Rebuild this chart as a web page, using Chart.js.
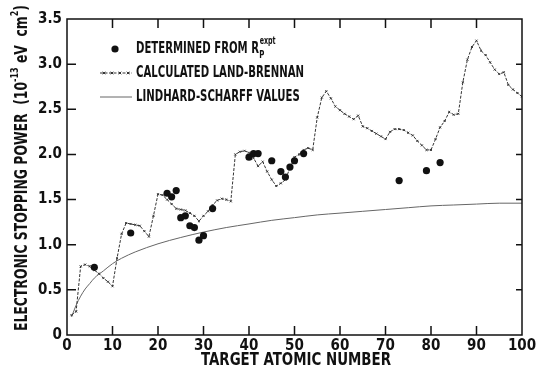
<!DOCTYPE html>
<html>
<head>
<meta charset="utf-8">
<script src="https://cdn.jsdelivr.net/npm/chart.js@4.4.1/dist/chart.umd.min.js"></script>
<style>
  html, body { margin: 0; padding: 0; background: #ffffff; }
  #c { display: block; }
</style>
</head>
<body>
<canvas id="c" width="539" height="379"></canvas>
<script>
// ---------- DATA ----------
const xTicks = [0, 10, 20, 30, 40, 50, 60, 70, 80, 90, 100];
const yTicks = [0, 0.5, 1.0, 1.5, 2.0, 2.5, 3.0, 3.5];

// Determined from R_P^expt (filled circles)
const exptZ = [6, 14, 22, 23, 24, 25, 26, 27, 28, 29, 30, 32, 40, 41, 42, 45, 47, 48, 49, 50, 52, 73, 79, 82];
const exptS = [0.75, 1.13, 1.57, 1.53, 1.60, 1.30, 1.32, 1.21, 1.19, 1.05, 1.10, 1.40, 1.97, 2.01, 2.01, 1.93, 1.81, 1.75, 1.86, 1.93, 2.01, 1.71, 1.82, 1.91];

// Calculated Land-Brennan
const lbZ = [1,2,3,4,5,6,7,8,9,10,11,12,13,14,15,16,17,18,19,20,21,22,23,24,25,26,27,28,29,30,31,32,33,34,35,36,37,38,39,40,41,42,43,44,45,46,47,48,49,50,51,52,53,54,55,56,57,58,59,60,61,62,63,64,65,66,67,68,69,70,71,72,73,74,75,76,77,78,79,80,81,82,83,84,85,86,87,88,89,90,91,92,93,94,95,96,97,98,99,100];
const lbS = [0.22,0.26,0.76,0.78,0.76,0.72,0.68,0.63,0.59,0.54,
             0.85,1.12,1.24,1.23,1.22,1.21,1.15,1.09,1.32,1.56,
             1.55,1.50,1.45,1.40,1.39,1.38,1.35,1.32,1.26,1.32,
             1.37,1.44,1.49,1.51,1.50,1.48,2.00,2.03,2.04,2.02,
             1.96,1.87,1.92,1.81,1.72,1.65,1.68,1.72,1.85,1.97,
             2.00,2.05,2.07,2.05,2.41,2.63,2.70,2.62,2.53,2.49,
             2.45,2.42,2.39,2.43,2.31,2.29,2.26,2.23,2.20,2.17,
             2.25,2.28,2.28,2.27,2.24,2.21,2.15,2.10,2.05,2.05,
             2.17,2.30,2.37,2.47,2.44,2.45,2.80,3.05,3.19,3.26,
             3.15,3.10,3.02,2.94,2.89,2.91,2.77,2.72,2.68,2.64];

// Lindhard-Scharff values
const lsZ = [1, 2, 3, 4, 5, 6, 8, 10, 12, 15, 20, 25, 30, 35, 40, 45, 50, 55, 60, 65, 70, 75, 80, 85, 90, 95, 100];
const lsS = [0.20, 0.33, 0.43, 0.51, 0.57, 0.63, 0.71, 0.79, 0.85, 0.92, 1.01, 1.08, 1.14, 1.19, 1.23, 1.27, 1.30, 1.33, 1.35, 1.37, 1.39, 1.41, 1.43, 1.44, 1.45, 1.46, 1.46];

const xTitle = 'TARGET ATOMIC NUMBER';
const yTitleParts = [['ELECTRONIC STOPPING POWER  (10', 0], ['-13', 1], [' eV  cm', 0], ['2', 1], [')', 0]];
const legendLabels = ['DETERMINED FROM R', 'CALCULATED LAND-BRENNAN', 'LINDHARD-SCHARFF VALUES'];

// ---------- STYLE ----------
const FAM = '"Liberation Sans Narrow", "DejaVu Sans Condensed", "Arial Narrow", sans-serif';
const INK = '#111111';

const toXY = (xs, ys) => xs.map((x, i) => ({ x: x, y: ys[i] }));

function runsWidth(ctx, runs, big, small) {
  let w = 0;
  runs.forEach(([t, s]) => { ctx.font = s ? small : big; w += ctx.measureText(t).width; });
  return w;
}

const decor = {
  id: 'decor',
  afterDraw(chart) {
    const ctx = chart.ctx;
    const a = chart.chartArea;
    const xs = chart.scales.x, ys = chart.scales.y;
    ctx.save();
    // frame
    ctx.strokeStyle = INK;
    ctx.lineWidth = 1.5;
    ctx.strokeRect(a.left, a.top, a.right - a.left, a.bottom - a.top);
    // inward ticks
    ctx.beginPath();
    xTicks.forEach(v => {
      if (v === 0 || v === 100) return;
      const px = xs.getPixelForValue(v);
      ctx.moveTo(px, a.bottom); ctx.lineTo(px, a.bottom - 9);
      ctx.moveTo(px, a.top); ctx.lineTo(px, a.top + 9);
    });
    yTicks.forEach(v => {
      if (v === 0 || v === 3.5) return;
      const py = ys.getPixelForValue(v);
      ctx.moveTo(a.left, py); ctx.lineTo(a.left + 9, py);
      ctx.moveTo(a.right, py); ctx.lineTo(a.right - 6, py);
    });
    ctx.stroke();

    ctx.fillStyle = INK;
    ctx.textBaseline = 'middle';
    ctx.textAlign = 'left';

    // x title (condensed to the reference width)
    ctx.font = 'bold 18px ' + FAM;
    const xw = ctx.measureText(xTitle).width;
    ctx.save();
    ctx.translate(296, 360);
    ctx.scale(190 / xw, 1);
    ctx.fillText(xTitle, -xw / 2, 0);
    ctx.restore();

    // y title with superscripts
    const big = 'bold 17px ' + FAM, small = 'bold 11px ' + FAM;
    const yw = runsWidth(ctx, yTitleParts, big, small);
    ctx.save();
    ctx.translate(23, 168);
    ctx.rotate(-Math.PI / 2);
    ctx.scale(326 / yw, 1);
    let cx = -yw / 2;
    yTitleParts.forEach(([t, s]) => {
      ctx.font = s ? small : big;
      ctx.fillText(t, cx, s ? -8 : 0);
      cx += ctx.measureText(t).width;
    });
    ctx.restore();

    // legend
    const lx = 136, rows = [49, 73, 97];
    const LF = 'bold 16px ' + FAM;
    ctx.font = LF;
    const k = 168 / ctx.measureText(legendLabels[1]).width;
    ctx.save();
    ctx.translate(lx, 0);
    ctx.scale(k, 1);
    legendLabels.forEach((t, i) => { ctx.font = LF; ctx.fillText(t, 0, rows[i]); });
    ctx.font = LF;
    const w0 = ctx.measureText(legendLabels[0]).width;
    ctx.font = 'bold 11px ' + FAM;
    ctx.fillText('P', w0 + 0.5, rows[0] + 6);
    ctx.font = 'bold 10px ' + FAM;
    ctx.fillText('expt', w0 + 1, rows[0] - 8);
    ctx.restore();

    // legend symbols
    ctx.beginPath();
    ctx.arc(115, rows[0], 3.6, 0, Math.PI * 2);
    ctx.fill();
    ctx.strokeStyle = '#333';
    ctx.lineWidth = 1;
    ctx.setLineDash([3, 1.5]);
    ctx.beginPath(); ctx.moveTo(100, rows[1]); ctx.lineTo(132, rows[1]); ctx.stroke();
    ctx.setLineDash([]);
    [104, 112, 120, 128].forEach(px => {
      ctx.beginPath();
      ctx.moveTo(px - 1.3, rows[1] - 1.3); ctx.lineTo(px + 1.3, rows[1] + 1.3);
      ctx.moveTo(px - 1.3, rows[1] + 1.3); ctx.lineTo(px + 1.3, rows[1] - 1.3);
      ctx.stroke();
    });
    ctx.strokeStyle = '#666';
    ctx.beginPath(); ctx.moveTo(100, rows[2]); ctx.lineTo(132, rows[2]); ctx.stroke();
    ctx.restore();
  }
};

new Chart(document.getElementById('c'), {
  type: 'scatter',
  data: {
    datasets: [
      {
        label: 'Lindhard-Scharff values',
        data: toXY(lsZ, lsS),
        showLine: true,
        borderColor: '#666666',
        borderWidth: 1,
        pointRadius: 0,
        cubicInterpolationMode: 'monotone',
        order: 3
      },
      {
        label: 'Calculated Land-Brennan',
        data: toXY(lbZ, lbS),
        showLine: true,
        borderColor: '#333333',
        borderWidth: 1,
        borderDash: [3, 1.5],
        pointStyle: 'crossRot',
        pointRadius: 1.4,
        pointBorderColor: '#333333',
        pointBorderWidth: 1,
        order: 2
      },
      {
        label: 'Determined from Rp expt',
        data: toXY(exptZ, exptS),
        showLine: false,
        pointStyle: 'circle',
        pointRadius: 3.6,
        pointBackgroundColor: INK,
        pointBorderColor: INK,
        pointBorderWidth: 0,
        order: 1
      }
    ]
  },
  options: {
    responsive: false,
    devicePixelRatio: 1,
    animation: false,
    layout: { padding: { left: 0, top: 19, right: 17, bottom: 0 } },
    plugins: { legend: { display: false }, tooltip: { enabled: false }, title: { display: false } },
    scales: {
      x: {
        type: 'linear', min: 0, max: 100,
        grid: { display: false, drawTicks: false },
        border: { display: false },
        afterFit: s => { s.height = 44; },
        afterBuildTicks: s => { s.ticks = xTicks.map(v => ({ value: v })); },
        ticks: {
          padding: 2, color: INK, maxRotation: 0, autoSkip: false,
          font: { family: FAM, size: 15, weight: 'bold' },
          callback: v => String(v)
        }
      },
      y: {
        type: 'linear', min: 0, max: 3.5,
        grid: { display: false, drawTicks: false },
        border: { display: false },
        afterFit: s => { s.width = 67; },
        afterBuildTicks: s => { s.ticks = yTicks.map(v => ({ value: v })); },
        ticks: {
          padding: 5, color: INK, autoSkip: false,
          font: { family: FAM, size: 15, weight: 'bold' },
          callback: v => (v === 0 ? '0' : Number(v).toFixed(1))
        }
      }
    }
  },
  plugins: [decor]
});
</script>
</body>
</html>
